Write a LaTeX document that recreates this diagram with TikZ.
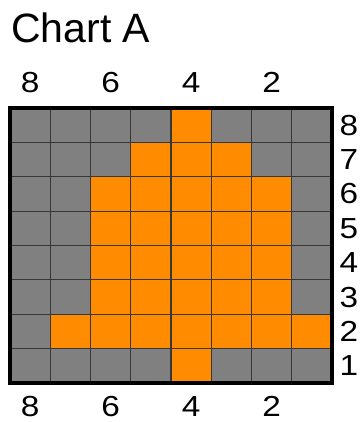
\documentclass[tikz,border=0pt]{standalone}
\usepackage{fontspec}
\setmainfont{Liberation Sans}[FakeStretch=1.15]
\newfontfamily\titlefont{Liberation Sans}
\definecolor{cellgrey}{RGB}{128,128,128}
\definecolor{cellorange}{RGB}{255,140,0}
\definecolor{gridline}{RGB}{55,55,55}

\begin{document}
\begin{tikzpicture}[x=1pt, y=-1pt,
  title/.style={font=\titlefont\fontsize{41}{41}\selectfont, inner sep=0pt, anchor=base west},
  num/.style={font=\fontsize{29}{29}\selectfont, inner sep=0pt},
  gridln/.style={draw=gridline, line width=1.2pt},
  frame/.style={draw=black, line width=4.5pt}]
  \useasboundingbox (0,0) rectangle (359,422);

  % grey background of the chart
  \fill[cellgrey] (10,108) rectangle (332,383);
  % orange stitches, one run per row (row from top / first col / last col)
  \foreach \r/\a/\b in {1/5/5, 2/4/6, 3/3/7, 4/3/7, 5/3/7, 6/3/7, 7/2/8, 8/5/5}
    \fill[cellorange] ({10+(\a-1)*40.25},{108+(\r-1)*34.375})
      rectangle ({10+\b*40.25},{108+\r*34.375});
  % grid lines
  \foreach \i in {1,...,7} {
    \draw[gridln] ({10+\i*40.25},108) -- ({10+\i*40.25},383);
    \draw[gridln] (10,{108+\i*34.375}) -- (332,{108+\i*34.375});
  }
  \draw[frame] (10,108) rectangle (332,383);

  \node[title] (chart) at (11,43) {Chart A};

  % column numbers, top and bottom
  \foreach \n/\c in {8/1, 6/3, 4/5, 2/7} {
    \node[num, anchor=base] (top\n) at ({10+(\c-0.5)*40.25},93) {\n};
    \node[num, anchor=base] (bot\n) at ({10+(\c-0.5)*40.25},416) {\n};
  }
  % row numbers
  \foreach \n in {1,...,8}
    \node[num] (row\n) at (349,{108+(8.5-\n)*34.375}) {\n};
\end{tikzpicture}
\end{document}
